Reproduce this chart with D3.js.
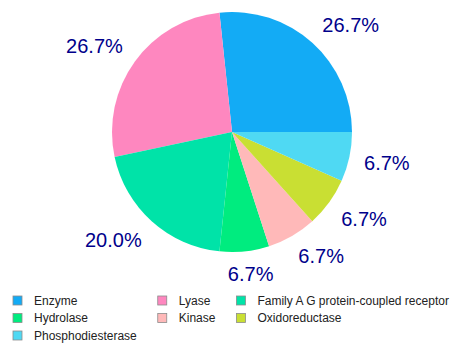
<!DOCTYPE html>
<html>
<head>
<meta charset="utf-8">
<script src="https://cdn.jsdelivr.net/npm/d3@7"></script>
<style>
  body { margin: 0; background: #fff; }
  svg { display: block; font-family: Arial, "Liberation Sans", sans-serif; }
</style>
</head>
<body>
<svg id="chart"></svg>
<script>
const categories = ['Enzyme', 'Lyase', 'Family A G protein-coupled receptor', 'Hydrolase', 'Kinase', 'Oxidoreductase', 'Phosphodiesterase'];
const counts = [4, 4, 3, 1, 1, 1, 1];
const colors = ['#13abf5', '#fe87bf', '#00e3a8', '#00ec7f', '#ffb9b9', '#c9df33', '#4fd9f3'];

const width = 457;
const height = 355;
const cx = 232, cy = 132, radius = 120;
const labelRadius = 135;
const labelSize = 20;
const capHeight = labelSize * 0.716;

const svg = d3.select('#chart')
  .attr('width', width)
  .attr('height', height);

const data = categories.map((c, i) => ({ name: c, value: counts[i], color: colors[i] }));
const total = d3.sum(counts);
const fmt = d3.format('.1%');

// counter-clockwise from 3 o'clock, like base R pie()
const pie = d3.pie()
  .sort(null)
  .value(d => d.value)
  .startAngle(Math.PI / 2)
  .endAngle(Math.PI / 2 - 2 * Math.PI);

const arc = d3.arc()
  .innerRadius(0)
  .outerRadius(radius);

const g = svg.append('g')
  .attr('transform', `translate(${cx},${cy})`);

const arcs = pie(data);

g.selectAll('path')
  .data(arcs)
  .enter()
  .append('path')
  .attr('d', arc)
  .attr('fill', d => d.data.color);

const clamp = v => Math.max(0, Math.min(1, v));

g.selectAll('text.pct')
  .data(arcs)
  .enter()
  .append('text')
  .attr('class', 'pct')
  .style('font-size', labelSize + 'px')
  .attr('fill', '#00008b')
  .text(d => fmt(d.data.value / total))
  .each(function (d) {
    const a = (d.startAngle + d.endAngle) / 2;
    const s = Math.sin(a), c = Math.cos(a);
    const px = labelRadius * s;
    const py = -labelRadius * c;
    const w = this.getComputedTextLength();
    const fx = clamp(0.5 - s * 0.95);
    const fy = clamp(0.5 + c * 0.85);
    d3.select(this)
      .attr('x', px - fx * w)
      .attr('y', py - fy * capHeight + capHeight);
  });

// legend, 3 columns, row-major
const legend = svg.append('g').attr('class', 'legend');
const nCols = 3;
const rowTop = [296, 313.5, 331];
const colGap = 21;
const items = legend.selectAll('g')
  .data(data)
  .enter()
  .append('g');

items.append('rect')
  .attr('width', 9)
  .attr('height', 9)
  .attr('fill', d => d.color)
  .attr('stroke', '#8c8c8c')
  .attr('stroke-width', 0.8);

items.append('text')
  .attr('x', 21)
  .attr('y', 8.5)
  .style('font-size', '12px')
  .attr('fill', '#222')
  .text(d => d.name);

const colWidths = d3.range(nCols).map(ci => {
  let m = 0;
  items.filter((d, i) => i % nCols === ci).select('text').each(function () {
    m = Math.max(m, this.getComputedTextLength());
  });
  return 21 + m + colGap;
});
const colX = [13];
for (let i = 1; i < nCols; i++) colX.push(colX[i - 1] + colWidths[i - 1]);

items.attr('transform', (d, i) => `translate(${colX[i % nCols]},${rowTop[Math.floor(i / nCols)]})`);
</script>
</body>
</html>
